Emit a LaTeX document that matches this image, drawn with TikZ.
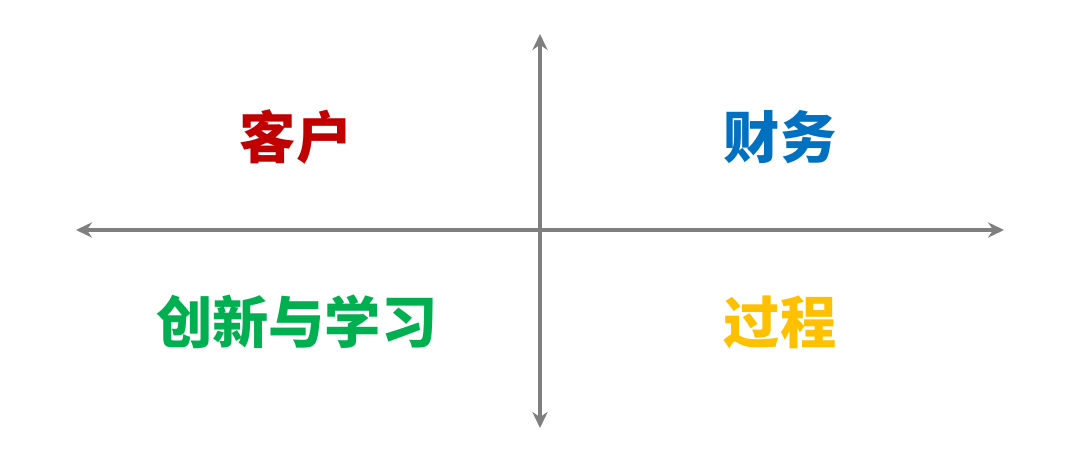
\documentclass[tikz,border=0pt]{standalone}
\usepackage{fontspec}
\newfontfamily\cjk{Noto Sans CJK SC}
\usepackage{tikz}
\usetikzlibrary{arrows.meta}
\definecolor{axisgray}{HTML}{7F7F7F}
\definecolor{kred}{HTML}{C00000}
\definecolor{kblue}{HTML}{0070C0}
\definecolor{kgreen}{HTML}{00B050}
\definecolor{kgold}{HTML}{FFC000}
\tikzset{quad/.style={font=\cjk\bfseries\fontsize{40}{40}\selectfont}}
\begin{document}
\begin{tikzpicture}[>={Stealth[length=0.4cm,width=0.38cm]}]
			\useasboundingbox (0,0) rectangle (27,11.5);
			\coordinate (L) at (1.9,5.75);
			\coordinate (R) at (25.1,5.75);
			\coordinate (B) at (13.5,0.8);
			\coordinate (T) at (13.5,10.65);
			\draw [<->,axisgray,line width=2.4pt] (L) -- (R);
			\draw [<->,axisgray,line width=2.4pt] (B) -- (T);
			\node[quad,kred] (kehu) at (7.4,8.08) {客户};
			\node[quad,kblue] (caiwu) at (19.5,8.08) {财务};
			\node[quad,kgreen] (chuangxin) at (7.42,3.45) {创新与学习};
			\node[quad,kgold] (guocheng) at (19.5,3.45) {过程};
		\end{tikzpicture}
\end{document}
